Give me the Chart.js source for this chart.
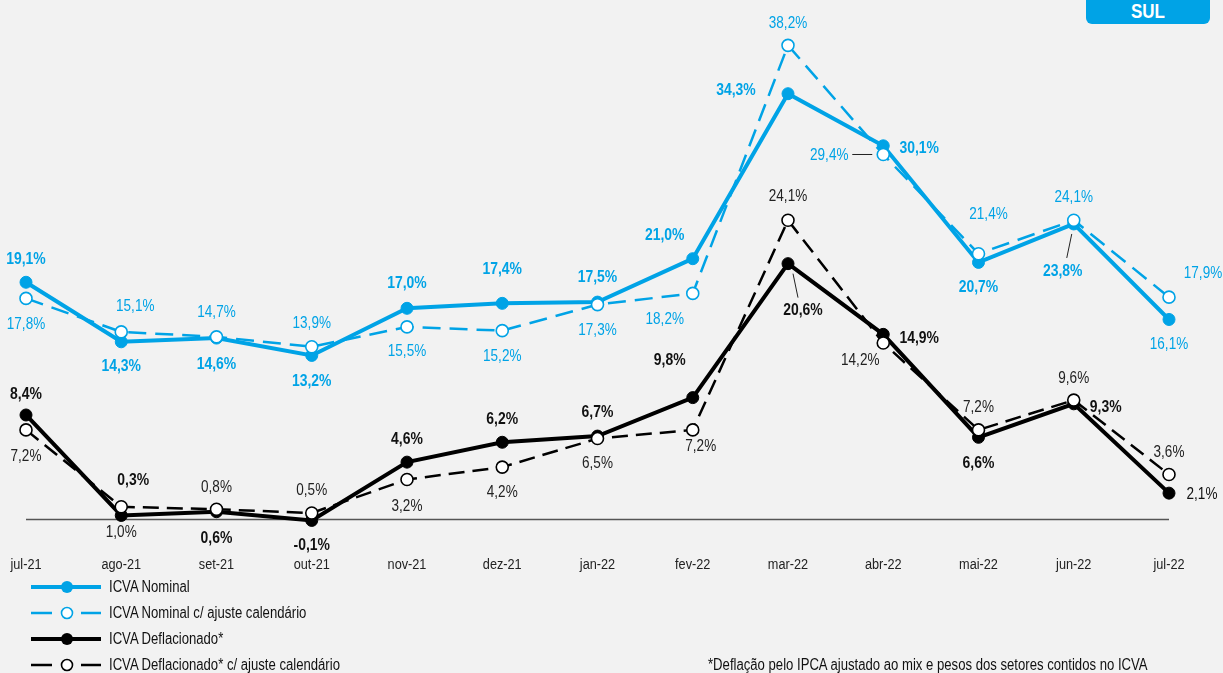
<!DOCTYPE html>
<html><head><meta charset="utf-8">
<script src="https://cdn.jsdelivr.net/npm/chart.js@4.4.1/dist/chart.umd.min.js"></script>
<style>
html,body{margin:0;padding:0;background:#f2f2f2;}
#wrap{position:relative;width:1223px;height:673px;overflow:hidden;font-family:'Liberation Sans',Arial,sans-serif;}
canvas{position:absolute;left:0;top:0;}
.narrow{display:inline-block;transform:scaleX(0.82);transform-origin:left center;white-space:nowrap;}
.badge{position:absolute;left:1086px;top:0;width:124px;height:24px;background:#00A3E6;border-radius:0 0 6px 6px;color:#fff;font-weight:bold;font-size:20px;line-height:22px;text-align:center;}
.badge span{display:inline-block;transform:scaleX(0.85);}
.row{position:absolute;left:31px;height:24px;display:flex;align-items:center;font-size:16px;color:#111;white-space:nowrap;}
.row svg{margin-right:8px;display:block}
.note{position:absolute;left:708px;top:655px;font-size:16px;color:#111;white-space:nowrap;line-height:20px;}
</style></head>
<body>
<div id="wrap">
<canvas id="c" width="1223" height="673"></canvas>
<div class="badge"><span>SUL</span></div>
<div id="legend"></div>
<div class="note"><span class="narrow">*Deflação pelo IPCA ajustado ao mix e pesos dos setores contidos no ICVA</span></div>
</div>
<script>
// ---- data ----
const categories = ['jul-21','ago-21','set-21','out-21','nov-21','dez-21','jan-22','fev-22','mar-22','abr-22','mai-22','jun-22','jul-22'];
const nominal        = [19.1, 14.3, 14.6, 13.2, 17.0, 17.4, 17.5, 21.0, 34.3, 30.1, 20.7, 23.8, 16.1];
const nominalAjuste  = [17.8, 15.1, 14.7, 13.9, 15.5, 15.2, 17.3, 18.2, 38.2, 29.4, 21.4, 24.1, 17.9];
const deflacionado   = [8.4, 0.3, 0.6, -0.1, 4.6, 6.2, 6.7, 9.8, 20.6, 14.9, 6.6, 9.3, 2.1];
const deflAjuste     = [7.2, 1.0, 0.8, 0.5, 3.2, 4.2, 6.5, 7.2, 24.1, 14.2, 7.2, 9.6, 3.6];
const seriesNames = ['ICVA Nominal','ICVA Nominal c/ ajuste calendário','ICVA Deflacionado*','ICVA Deflacionado* c/ ajuste calendário'];

// ---- label placement (layout only) ----
const offNominal = [[0,-23],[0,25],[0,26],[0,26],[0,-25],[0,-34],[0,-25],[-28,-23],[-52,-3],[36,3],[0,25],[-11,47],[0,25]];
const offNomAj   = [[0,26],[14,-25],[0,-24],[0,-23],[0,25],[0,26],[0,26],[-28,26],[0,-22],[-54,1],[10,-39],[0,-23],[34,-24]];
const offDefl    = [[0,-21],[12,-35],[0,27],[0,25],[0,-23],[0,-23],[0,-24],[-23,-37],[15,47],[36,4],[0,26],[32,3],[33,1]];
const offDefAj   = [[0,27],[0,26],[0,-22],[0,-23],[0,27],[0,25],[0,25],[8,17],[0,-24],[-23,17],[0,-22],[0,-22],[0,-22]];
const boldSolid  = [1,1,1,1,1,1,1,1,1,1,1,1,0];
const leaders = [ {ds:0,i:11,from:[-2,10],to:[-7,34]}, {ds:1,i:9,from:[-31,0],to:[-11,0]}, {ds:2,i:8,from:[5,10],to:[10,34]} ];

const BLUE = '#00A3E6', BLACK = '#000000';
const FONT = "'Liberation Sans',Arial,sans-serif";
const NARROW = 0.82;
const fmt = v => v.toFixed(1).replace('.',',') + '%';

const labelCfg = [
  {off: offNominal, bold: boldSolid, color: BLUE},
  {off: offNomAj,   bold: null,      color: BLUE},
  {off: offDefl,    bold: boldSolid, color: '#111'},
  {off: offDefAj,   bold: null,      color: '#222'}
];

function narrowText(ctx, text, x, y){
  ctx.save(); ctx.translate(x, y); ctx.scale(NARROW, 1); ctx.fillText(text, 0, 0); ctx.restore();
}

const zeroLine = {
  id:'zeroLine',
  beforeDatasetsDraw(chart){
    const {ctx, chartArea, scales:{y}} = chart;
    const py = Math.round(y.getPixelForValue(0)) + 0.5;
    ctx.save(); ctx.strokeStyle = '#555'; ctx.lineWidth = 1.5;
    ctx.beginPath(); ctx.moveTo(chartArea.left, py); ctx.lineTo(chartArea.right, py); ctx.stroke(); ctx.restore();
  }
};
const xLabels = {
  id:'xLabels',
  afterDraw(chart){
    const {ctx, scales:{x}} = chart;
    ctx.save();
    ctx.font = '15.5px ' + FONT; ctx.fillStyle = '#222'; ctx.textAlign = 'center'; ctx.textBaseline = 'middle';
    categories.forEach((c, i) => narrowText(ctx, c, x.getPixelForTick(i), 565));
    ctx.restore();
  }
};
const dataLabels = {
  id:'dataLabels',
  afterDatasetsDraw(chart){
    const ctx = chart.ctx;
    ctx.save();
    leaders.forEach(l => {
      const p = chart.getDatasetMeta(l.ds).data[l.i];
      ctx.strokeStyle = '#222'; ctx.lineWidth = 1;
      ctx.beginPath(); ctx.moveTo(p.x + l.from[0], p.y + l.from[1]); ctx.lineTo(p.x + l.to[0], p.y + l.to[1]); ctx.stroke();
    });
    chart.data.datasets.forEach((ds, di) => {
      const cfg = labelCfg[di];
      const meta = chart.getDatasetMeta(di);
      ctx.fillStyle = cfg.color; ctx.textAlign = 'center'; ctx.textBaseline = 'middle';
      meta.data.forEach((p, i) => {
        const b = cfg.bold && cfg.bold[i];
        ctx.font = (b ? 'bold 17px ' : '16.5px ') + FONT;
        narrowText(ctx, fmt(ds.data[i]), p.x + cfg.off[i][0], p.y + cfg.off[i][1]);
      });
    });
    ctx.restore();
  }
};

new Chart(document.getElementById('c'), {
  type:'line',
  data:{
    labels: categories,
    datasets:[
      {label: seriesNames[0], data: nominal, borderColor: BLUE, backgroundColor: BLUE, borderWidth: 4, pointRadius: 6, pointBackgroundColor: BLUE, pointBorderColor: BLUE, pointBorderWidth: 1, order: 1},
      {label: seriesNames[1], data: nominalAjuste, borderColor: BLUE, backgroundColor: '#fff', borderWidth: 2.5, borderDash: [18,9], pointRadius: 6, pointBackgroundColor: '#fff', pointBorderColor: BLUE, pointBorderWidth: 1.6, order: 0},
      {label: seriesNames[2], data: deflacionado, borderColor: BLACK, backgroundColor: BLACK, borderWidth: 4, pointRadius: 6, pointBackgroundColor: BLACK, pointBorderColor: BLACK, pointBorderWidth: 1, order: 1},
      {label: seriesNames[3], data: deflAjuste, borderColor: BLACK, backgroundColor: '#fff', borderWidth: 2.5, borderDash: [16,8], pointRadius: 6, pointBackgroundColor: '#fff', pointBorderColor: BLACK, pointBorderWidth: 1.6, order: 0}
    ]
  },
  options:{
    responsive:false, animation:false, devicePixelRatio:1,
    layout:{padding:{top:23, left:26, right:54, bottom:129}},
    plugins:{legend:{display:false}, tooltip:{enabled:false}},
    elements:{line:{tension:0}},
    scales:{
      x:{display:false},
      y:{display:false, min:-2, max:40}
    }
  },
  plugins:[zeroLine, dataLabels, xLabels]
});

// HTML legend
const legendStyles = [
  {color: BLUE, dashed:false}, {color: BLUE, dashed:true}, {color: BLACK, dashed:false}, {color: BLACK, dashed:true}
];
const rowCenters = [587, 613, 639, 665];
const lg = document.getElementById('legend');
seriesNames.forEach((name, i) => {
  const s = legendStyles[i];
  const line = s.dashed
    ? `<line x1="0" y1="10" x2="21" y2="10" stroke="${s.color}" stroke-width="2.5"/><line x1="50" y1="10" x2="70" y2="10" stroke="${s.color}" stroke-width="2.5"/><circle cx="36" cy="10" r="5.5" fill="#fff" stroke="${s.color}" stroke-width="1.6"/>`
    : `<line x1="0" y1="10" x2="70" y2="10" stroke="${s.color}" stroke-width="4"/><circle cx="36" cy="10" r="6" fill="${s.color}"/>`;
  const row = document.createElement('div');
  row.className = 'row';
  row.style.top = (rowCenters[i] - 12) + 'px';
  row.innerHTML = `<svg width="70" height="20">${line}</svg><span class="narrow">${name}</span>`;
  lg.appendChild(row);
});
</script>
</body></html>
